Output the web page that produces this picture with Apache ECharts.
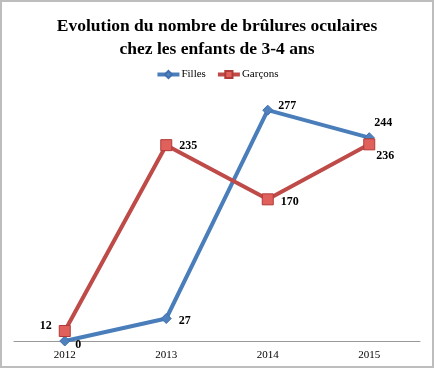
<!DOCTYPE html>
<html><head><meta charset="utf-8">
<script src="https://cdn.jsdelivr.net/npm/echarts@6/dist/echarts.min.js"></script>
<style>html,body{margin:0;padding:0;background:#fff}#c{width:434px;height:368px;box-sizing:border-box;border:2px solid #bdbdbd}</style>
</head><body><div id="c"></div>
<script>
const categories = ['2012','2013','2014','2015'];
const filles = [0, 27, 277, 244];
const garcons = [12, 235, 170, 236];

const chart = echarts.init(document.getElementById('c'));
const lblFont = {fontFamily:'Liberation Serif', fontWeight:'bold', fontSize:12, color:'#000'};
function mk(vals, positions, offsets){
  return vals.map((v,i)=>({value:v, label:Object.assign({show:true, position:positions[i], offset:offsets[i]}, lblFont)}));
}
chart.setOption({
  animation:false,
  title:{text:'Evolution du nombre de brûlures oculaires\nchez les enfants de 3-4 ans', left:'center', top:8,
    textStyle:{fontFamily:'Liberation Serif', fontWeight:'bold', fontSize:17.5, lineHeight:23, color:'#000'}},
  legend:{top:62, left:'center', itemWidth:22, itemHeight:9, itemGap:10,
    lineStyle:{width:4},
    textStyle:{fontFamily:'Liberation Serif', fontSize:11, color:'#000', padding:[0,0,0,-3]}},
  grid:{left:12, right:12, top:89, bottom:25},
  xAxis:{type:'category', data:categories, boundaryGap:true,
    axisLine:{lineStyle:{color:'#999', width:1}}, axisTick:{show:false},
    axisLabel:{fontFamily:'Liberation Serif', fontSize:11, color:'#000', margin:9}},
  yAxis:{type:'value', min:0, max:300, show:false, splitLine:{show:false}},
  series:[
    {name:'Filles', type:'line', data:mk(filles, ['right','right','right','top'], [[0,4],[2,2],[0,-4],[14,2]]),
      symbol:'diamond', symbolSize:10, lineStyle:{color:'#4a7ebb', width:4},
      itemStyle:{color:'#4f81bd', borderColor:'#3f6fae', borderWidth:1}, color:'#4a7ebb', z:2},
    {name:'Garçons', type:'line', data:mk(garcons, ['left','right','right','bottom'], [[-2,-5],[2,1],[2,3],[16,-5]]),
      symbol:'rect', symbolSize:11, lineStyle:{color:'#be4b48', width:4},
      itemStyle:{color:'#e0605c', borderColor:'#b03a37', borderWidth:1}, color:'#be4b48', z:3}
  ]
});
</script></body></html>
